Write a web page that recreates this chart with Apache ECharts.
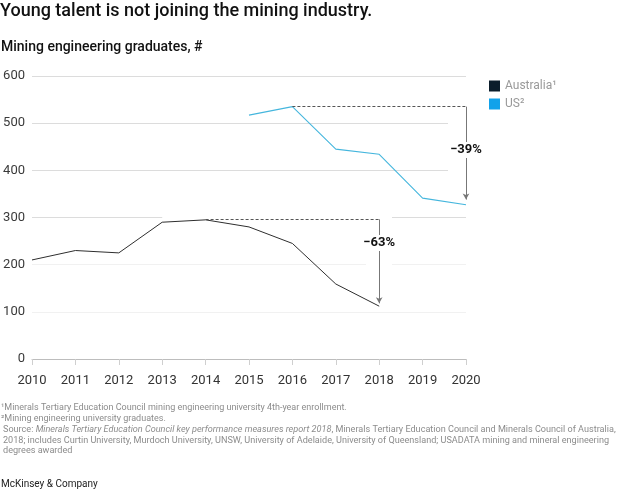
<!DOCTYPE html>
<html><head><meta charset="utf-8">
<script src="https://cdn.jsdelivr.net/npm/echarts/dist/echarts.min.js"></script>
<style>html,body{margin:0;padding:0;background:#fff}#c{width:640px;height:492px}</style>
</head><body><div id="c"></div>
<script>
// ---- data ----
const years = ['2010','2011','2012','2013','2014','2015','2016','2017','2018','2019','2020'];
const australia = [210, 230, 225, 290, 295, 280, 245, 159, 112, null, null];
const us = [null, null, null, null, null, 517, 535, 445, 434, 341, 327];
const yTicks = [0, 100, 200, 300, 400, 500, 600];
const ausChange = { from: '2014', to: '2018', top: 296, bottom: 118, label: '−63%', labelAt: 246 };
const usChange = { from: '2016', to: '2020', top: 535, bottom: 338, label: '−39%', labelAt: 443 };
const legendNames = { Australia: 'Australia¹', US: 'US²' };

const FONT = 'Roboto';
const chart = echarts.init(document.getElementById('c'));

function changeLines(c) {
  return [
    [{ coord: [c.from, c.top], lineStyle: { type: [3, 2], color: '#555', width: 1 } }, { coord: [c.to, c.top] }],
    [{ coord: [c.to, c.top], lineStyle: { type: 'solid', color: '#777', width: 1 } },
     { coord: [c.to, c.bottom], symbol: 'arrow', symbolSize: [5, 6] }]
  ];
}

const option = {
  animation: false,
  textStyle: { fontFamily: FONT },
  grid: { left: 32, right: 174, top: 76, bottom: 133, containLabel: false, outerBoundsMode: 'none' },
  legend: {
    orient: 'vertical', left: 484, top: 75, itemWidth: 11, itemHeight: 11, itemGap: 6,
    icon: 'rect', selectedMode: false,
    textStyle: { color: '#999', fontSize: 12, fontFamily: FONT },
    formatter: n => legendNames[n],
    data: [
      { name: 'Australia', itemStyle: { color: '#0b1d2b' } },
      { name: 'US', itemStyle: { color: '#12a2ea' } }
    ]
  },
  xAxis: {
    type: 'category', data: years, boundaryGap: false,
    axisLine: { lineStyle: { color: '#bdbdbd', width: 1 } },
    axisTick: { show: true, length: 6, lineStyle: { color: '#cfcfcf' }, alignWithLabel: true },
    axisLabel: { color: '#333', fontSize: 13, margin: 15, interval: 0, fontFamily: FONT },
    splitLine: { show: false }
  },
  yAxis: {
    type: 'value', min: yTicks[0], max: yTicks[yTicks.length - 1], interval: 100,
    axisLine: { show: false }, axisTick: { show: false },
    axisLabel: { color: '#3a3a3a', fontSize: 13, margin: 7, fontFamily: FONT },
    splitLine: { show: true, lineStyle: { color: ['#dcdcdc', '#f1f1f1', '#f1f1f1', '#dcdcdc', '#dcdcdc', '#dcdcdc', '#dcdcdc'], width: 1 } }
  },
  series: [
    {
      name: 'halo', type: 'line', data: years.map(() => null), z: 1, silent: true,
      markLine: {
        silent: true, symbol: ['none', 'none'], z: 1, label: { show: false },
        lineStyle: { color: '#ffffff', type: 'solid' },
        data: [
          [{ coord: [ausChange.to, ausChange.top + 8], lineStyle: { width: 26, color: '#fff', type: 'solid' } }, { coord: [ausChange.to, ausChange.bottom - 8] }],
          [{ coord: [2.67, 300], lineStyle: { width: 6, color: '#fff', type: 'solid' } }, { coord: [ausChange.to, 300] }],
          [{ coord: [usChange.to, usChange.top + 8], lineStyle: { width: 36, color: '#fff', type: 'solid' } }, { coord: [usChange.to, usChange.bottom - 8] }]
        ]
      }
    },
    {
      name: 'Australia', type: 'line', data: australia, symbol: 'none', z: 3,
      lineStyle: { color: '#2e2e2e', width: 1 }, itemStyle: { color: '#0b1d2b' },
      markLine: { silent: true, symbol: ['none', 'none'], z: 5, label: { show: false }, data: changeLines(ausChange) }
    },
    {
      name: 'US', type: 'line', data: us, symbol: 'none', z: 3,
      lineStyle: { color: '#45b6dd', width: 1.1 }, itemStyle: { color: '#12a2ea' },
      markLine: { silent: true, symbol: ['none', 'none'], z: 5, label: { show: false }, data: changeLines(usChange) }
    },
    {
      name: 'labels', type: 'line', data: years.map(() => null), z: 6, silent: true,
      markPoint: {
        silent: true, z: 6, symbol: 'rect', symbolSize: [38, 16],
        itemStyle: { color: '#fff' },
        label: { show: true, position: 'inside', color: '#111', fontSize: 13, fontWeight: 'bold', fontFamily: FONT, formatter: p => p.name },
        data: [
          { name: ausChange.label, coord: [ausChange.to, ausChange.labelAt] },
          { name: usChange.label, coord: [usChange.to, usChange.labelAt] }
        ]
      }
    }
  ],
  graphic: [
    { type: 'text', left: 0, top: 2, style: { text: 'Young talent is not joining the mining industry.', font: '500 18px ' + FONT, fill: '#111' } },
    { type: 'text', left: 1, top: 40, style: { text: 'Mining engineering graduates, #', font: '500 14px ' + FONT, fill: '#111' } },
    { type: 'text', left: 1, top: 403, style: { text: '¹Minerals Tertiary Education Council mining engineering university 4th-year enrollment.', font: '9px ' + FONT, fill: '#8c8c8c' } },
    { type: 'text', left: 1, top: 414, style: { text: '²Mining engineering university graduates.', font: '9px ' + FONT, fill: '#8c8c8c' } },
    { type: 'text', left: 3, top: 425, style: {
        text: 'Source: {i|Minerals Tertiary Education Council key performance measures report 2018}, Minerals Tertiary Education Council and Minerals Council of Australia,',
        font: '9.1px ' + FONT, fill: '#8c8c8c', rich: { i: { fontStyle: 'italic', fontSize: 9.1, fontFamily: FONT, color: '#8c8c8c' } } } },
    { type: 'text', left: 3, top: 436, style: { text: '2018; includes Curtin University, Murdoch University, UNSW, University of Adelaide, University of Queensland; USADATA mining and mineral engineering', font: '9.1px ' + FONT, fill: '#8c8c8c' } },
    { type: 'text', left: 3, top: 446, style: { text: 'degrees awarded', font: '9.1px ' + FONT, fill: '#8c8c8c' } },
    { type: 'text', left: 1, top: 479, style: { text: 'McKinsey & Company', font: '10px ' + FONT, fill: '#222' } }
  ]
};
chart.setOption(option);
</script>
</body></html>
